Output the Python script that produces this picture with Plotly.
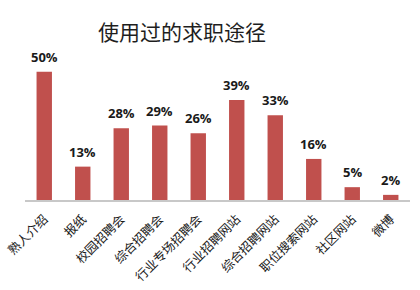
import plotly.graph_objects as go

# Channels used when looking for a job, share of respondents (%)
categories = ["熟人介绍", "报纸", "校园招聘会", "综合招聘会", "行业专场招聘会",
              "行业招聘网站", "综合招聘网站", "职位搜索网站", "社区网站", "微博"]
values = [50, 13, 28, 29, 26, 39, 33, 16, 5, 2]
value_labels = [f"{v}%" for v in values]

W, H = 420, 290
left, right = 25, 10
bottom = 90
top = 46

fig = go.Figure()
fig.add_trace(go.Bar(
    x=categories,
    y=values,
    marker=dict(color="#C0504D", line=dict(width=0)),
    width=0.4,
    hoverinfo="skip",
))

# value labels above each bar
for c, v, t in zip(categories, values, value_labels):
    fig.add_annotation(
        x=c, y=v, text=f"<b>{t}</b>", showarrow=False,
        yanchor="bottom", yshift=4,
        font=dict(family="Open Sans, Liberation Sans, sans-serif", size=13, color="#1a1a1a"),
    )

fig.update_layout(
    width=W, height=H,
    margin=dict(l=left, r=right, t=top, b=bottom, pad=0),
    paper_bgcolor="white",
    plot_bgcolor="white",
    showlegend=False,
    title=dict(
        text="使用过的求职途径",
        x=182 / W, xref="container", xanchor="center",
        y=1 - 33 / H, yref="container", yanchor="middle",
        font=dict(family="Noto Sans CJK SC", size=21, color="#1e1e1e"),
    ),
    xaxis=dict(
        type="category",
        range=[-0.5, len(categories) - 0.5],
        tickangle=-45,
        showgrid=False,
        showline=True, linecolor="#C8C8C8", linewidth=2,
        # invisible ticks push the slanted labels below the axis line
        ticks="outside", ticklen=5, tickcolor="rgba(0,0,0,0)",
        tickfont=dict(family="Noto Sans CJK SC", size=12.5, color="#1a1a1a"),
        automargin=False,
    ),
    yaxis=dict(
        range=[0, 60],
        visible=False,
        showgrid=False,
        zeroline=False,
        automargin=False,
    ),
)

fig.write_html("out.html")
